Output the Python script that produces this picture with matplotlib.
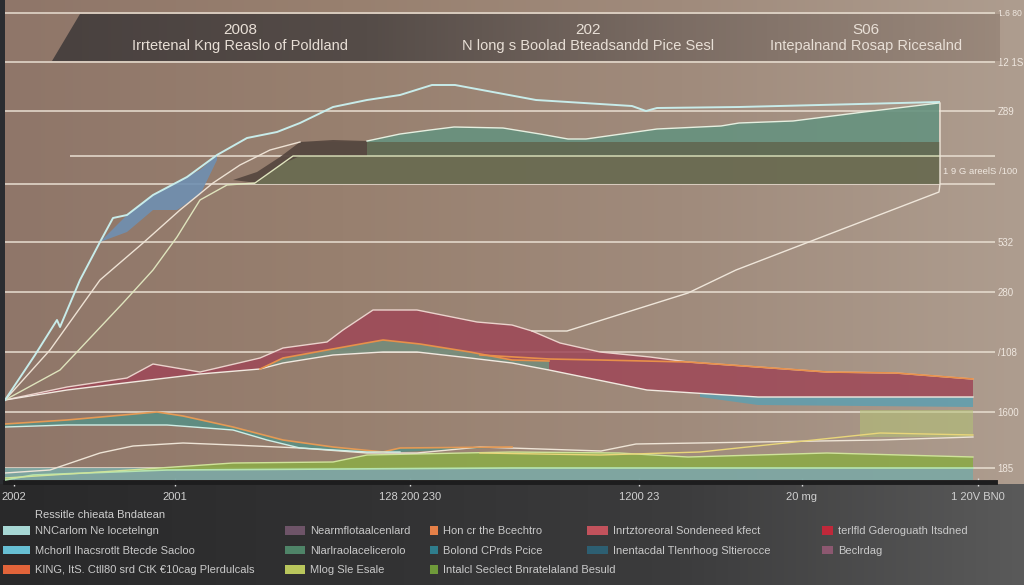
import matplotlib.pyplot as plt
import numpy as np
from matplotlib.colors import LinearSegmentedColormap
from matplotlib.patches import Patch, Polygon

plt.rcParams['font.family'] = ['Liberation Sans', 'DejaVu Sans']

# ---- data (x = period index, y = index level) ----
cyan_x = [5, 35, 57, 60, 80, 100, 113, 127, 153, 187, 217, 247, 277, 300, 333, 367,
          400, 432, 455, 536, 632, 646, 657, 739, 900, 939]
cyan_y = [82, 127, 162, 155, 202, 240, 264, 267, 287, 305, 327, 344, 350, 359, 375, 382,
          387, 397, 397, 382, 376, 371, 374, 375, 379, 380]

blue_x = [100, 127, 153, 177, 200, 217]
blue_top = [240, 267, 287, 300, 312, 327]
blue_bot = [240, 250, 272, 272, 287, 322]

lineb_x = [5, 50, 100, 143, 180, 213, 240, 270, 300]
lineb_y = [82, 132, 202, 239, 272, 299, 317, 332, 340]

linec_x = [5, 60, 123, 153, 177, 200, 227, 255, 293, 940]
linec_y = [82, 112, 179, 212, 245, 282, 297, 299, 326, 326]

brown_x = [233, 257, 280, 300, 333, 367]
brown_top = [302, 310, 325, 340, 342, 341]
brown_bot = [302, 299, 317, 326, 326, 326]

olive_x = [255, 293, 940]
olive_top = [299, 326, 326]
olive_bot = [298, 298, 298]

moss_x = [300, 940]
moss_top = [340, 340]
moss_bot = [326, 326]

teal_x = [367, 400, 430, 454, 503, 540, 568, 586, 657, 721, 739, 793, 864, 939]
teal_top = [341, 348, 352, 355, 354, 348, 343, 343, 353, 356, 359, 361, 370, 379]

diag_x = [532, 567, 688, 736, 814, 939, 940, 940]
diag_y = [151, 151, 189, 212, 242, 290, 298, 379]

red_top_x = [5, 67, 127, 153, 200, 260, 283, 327, 343, 373, 417, 477, 512, 532, 560,
             600, 650, 688, 758, 827, 896, 973]
red_top_y = [82, 95, 104, 118, 110, 124, 134, 140, 152, 172, 172, 160, 157, 151, 139,
             130, 125, 120, 115, 110, 109, 103]
red_bot_x = [5, 67, 133, 200, 260, 283, 333, 383, 417, 470, 512, 549, 647, 758, 973]
red_bot_y = [82, 92, 100, 108, 113, 119, 127, 130, 130, 124, 119, 112, 92, 85, 85]

orange_x = [260, 283, 327, 383, 420, 470, 512, 549]
orange_y = [113, 124, 132, 142, 138, 130, 122, 121]
orange_r_x = [480, 549, 600, 688, 758, 827, 896, 973]
orange_r_y = [127, 123, 122, 120, 115, 110, 109, 103]

sky_x = [700, 758, 973]
sky_top = [89, 85, 85]
sky_bot = [85, 77, 75]

low_top_x = [5, 67, 157, 183, 233, 283, 333, 383, 400, 512]
low_top_y = [58, 62, 70, 66, 55, 42, 35, 30, 34, 35]
low_bot_x = [5, 67, 167, 233, 267, 300, 367, 400]
low_bot_y = [55, 57, 57, 52, 42, 34, 30, 30]

pale_x = [5, 50, 100, 133, 183, 233, 300, 367, 417, 480, 601, 636, 880, 973]
pale_y = [9, 12, 29, 36, 39, 37, 34, 29, 29, 35, 31, 38, 42, 45]

gold_x = [480, 600, 700, 880, 973]
gold_y = [29, 27, 30, 49, 47]

green_top_x = [5, 100, 233, 333, 367, 512, 619, 688, 827, 973]
green_top_y = [4, 10, 19, 20, 27, 30, 29, 25, 29, 25]
green_bot_x = [5, 33, 167, 512, 973]
green_bot_y = [2, 7, 12, 14, 14]

base_x = [5, 973]
base_top = [14, 14]
base_bot = [2, 2]

lime_x = [860, 973]
lime_top = [72, 72]
lime_bot = [45, 45]

grid_y = [469, 420, 371, 298, 240, 190, 130, 70, 14]
grid_lbl = ['1.6 80', '12 1S', 'Z89', '', '532', '280', '/108', '1600', '185']

xt = [14, 175, 410, 639, 802, 978]
xt_lbl = ['2002', '2001', '128 200 230', '1200 23', '20 mg', '1 20V BN0']

banner_nums = ['2008', '202', 'S06']
banner_subs = ['Irrtetenal Kng Reaslo of Poldland',
               'N long s Boolad Bteadsandd Pice Sesl',
               'Intepalnand Rosap Ricesalnd']

leg_title = 'Ressitle chieata Bndatean'
leg1_labels = ['NNCarlom Ne locetelngn', 'Mchorll Ihacsrotlt Btecde Sacloo',
               'KING, ItS. Ctll80 srd CtK \u20ac10cag Plerdulcals']
leg1_colors = ['#a7d7d4', '#67bfd3', '#e2643a']
leg2_labels = ['Nearmflotaalcenlard', 'Nlarlraolacelicerolo', 'Mlog Sle Esale']
leg2_colors = ['#6e5468', '#4f8468', '#b9c65c']
leg3_labels = ['Hon cr the Bcechtro', 'Bolond CPrds Pcice', 'Intalcl Seclect Bnratelaland Besuld']
leg3_colors = ['#e58048', '#2f7d8c', '#6f9a3a']
leg4_labels = ['Inrtztoreoral Sondeneed kfect', 'Inentacdal Tlenrhoog Sltierocce']
leg4_colors = ['#c2525c', '#2d5f72']
leg5_labels = ['terlfld Gderoguath Itsdned', 'Beclrdag']
leg5_colors = ['#c0283a', '#8c5870']

W, H = 1024, 585
fig = plt.figure(figsize=(W / 100, H / 100), dpi=100, facecolor='#2b2d31')

# ---- backgrounds ----
bg = fig.add_axes([0, 0, 1, 1], zorder=0)
grad = np.linspace(0, 1, 256)[None, :]
dark = LinearSegmentedColormap.from_list('dark', ['#29292a', '#313132', '#3c3c3d', '#5a5a5a'])
brown = LinearSegmentedColormap.from_list('brown', ['#8f7669', '#98806f', '#a08b7c', '#ae9d8f'])
bg.imshow(grad, cmap=dark, extent=(0, W, H, 484), aspect='auto')
bg.imshow(grad, cmap=brown, extent=(5, W, 484, 0), aspect='auto')
bg.set_xlim(0, W)
bg.set_ylim(H, 0)
bg.axis('off')

# ---- main chart ----
ax = fig.add_axes([5 / W, (H - 482) / H, 990 / W, 482 / H], zorder=2)
ax.set_facecolor('none')
ax.set_xlim(5, 995)
ax.set_ylim(0, 482)


def band(xt_, yt_, xb_, yb_, color, alpha=1.0, z=2):
    xs = np.r_[xt_, xb_[::-1]]
    ys = np.r_[yt_, yb_[::-1]]
    ax.fill(xs, ys, color=color, alpha=alpha, lw=0, zorder=z)


band(base_x, base_top, base_x, base_bot, '#7ea7a3', 0.95)
band(green_top_x, green_top_y, green_bot_x, green_bot_y, '#8da84b', 0.95)
band(lime_x, lime_top, lime_x, lime_bot, '#b4c375', 0.55)
band(low_top_x, low_top_y, low_bot_x, low_bot_y, '#5a8f84', 0.9)
band(red_top_x, red_top_y, red_bot_x, red_bot_y, '#9e4757', 0.85)
band(orange_x, orange_y, red_bot_x[4:12], red_bot_y[4:12], '#6f9a82', 0.8)
band(sky_x, sky_top, sky_x, sky_bot, '#5e9fb0', 0.85)
band(olive_x, olive_top, olive_x, olive_bot, '#6a6b51', 0.95)
band(moss_x, moss_top, moss_x, moss_bot, '#5f6a53', 0.95)
band(teal_x, teal_top, [teal_x[0], teal_x[-1]], [340, 340], '#66927f', 0.9)
band(brown_x, brown_top, brown_x, brown_bot, '#574840', 0.95)
band(blue_x, blue_top, blue_x, blue_bot, '#6f90b2', 0.9)

ax.plot(green_bot_x, green_bot_y, color='#b5e3b0', lw=1.2, zorder=3)
ax.plot(green_top_x, green_top_y, color='#cfe39a', lw=1, zorder=3)
ax.plot(pale_x, pale_y, color='#eee4d6', lw=1, zorder=3)
ax.plot(gold_x, gold_y, color='#e9d67a', lw=1, zorder=3)
ax.plot(low_top_x, low_top_y, color='#e59a55', lw=1.2, zorder=3)
ax.plot(low_bot_x, low_bot_y, color='#cfeee6', lw=1, zorder=3)
ax.plot(red_top_x, red_top_y, color='#ead3cc', lw=1, zorder=3)
ax.plot(red_bot_x, red_bot_y, color='#f1e9e0', lw=1, zorder=3)
ax.plot(orange_x, orange_y, color='#e8904a', lw=1.2, zorder=3)
ax.plot(orange_r_x, orange_r_y, color='#e8904a', lw=1.2, zorder=3)
ax.plot(teal_x, teal_top, color='#e6efe0', lw=1, zorder=3)
ax.plot(lineb_x, lineb_y, color='#eee2d4', lw=1, zorder=3)
ax.plot(linec_x, linec_y, color='#dfe4bd', lw=1, zorder=3)
ax.plot(diag_x, diag_y, color='#efe6da', lw=1, zorder=3)
ax.plot(cyan_x, cyan_y, color='#c8ecea', lw=1.4, zorder=4)
ax.hlines(326, 70, 995, color='#e9dfd2', lw=1.1, zorder=1)

ax.set_yticks(grid_y)
ax.set_yticklabels(grid_lbl)
ax.yaxis.tick_right()
ax.tick_params(axis='y', length=0, pad=2, labelcolor='#efe7df', labelsize=7)
ax.get_yticklabels()[0].set_fontsize(6.2)
ax.grid(axis='y', color='#e9dfd2', lw=1.1)
ax.set_axisbelow(True)

ax.set_xticks(xt)
ax.set_xticklabels(xt_lbl)
ax.tick_params(axis='x', color='#dcdcdc', length=6, width=1, direction='inout',
               labelcolor='#d0d0d0', labelsize=8, pad=4)
for s in ['top', 'left', 'right']:
    ax.spines[s].set_visible(False)
ax.spines['bottom'].set_color('#1d1d1e')
ax.spines['bottom'].set_linewidth(3.5)
ax.text(943, 310, '1 9 G areelS /100', fontsize=6.8, color='#efe7df', va='center')

# ---- banner ----
ov = fig.add_axes([0, 0, 1, 1], zorder=3)
ov.set_facecolor('none')
bann = LinearSegmentedColormap.from_list('bann', ['#49413f', '#554c48', '#7c6d64', '#9a887b'])
im = ov.imshow(grad, cmap=bann, extent=(52, 1000, 62, 14), aspect='auto')
poly = Polygon([(52, 61), (80, 14), (1000, 14), (1000, 61)], closed=True,
               facecolor='none', edgecolor='none')
ov.add_patch(poly)
im.set_clip_path(poly)
ov.set_xlim(0, W)
ov.set_ylim(H, 0)
ov.axis('off')
for cx, num, sub in zip([240, 588, 866], banner_nums, banner_subs):
    ov.text(cx, 30, num, ha='center', va='center', fontsize=11, color='#e8dfd6')
    ov.text(cx, 46, sub, ha='center', va='center', fontsize=10.5, color='#e8dfd6')

# ---- legend ----
fig.text(35 / W, 1 - 515 / H, leg_title, fontsize=8, color='#cfcfcf', va='center')
for x0, hl, labels, colors in [(3, 2.4, leg1_labels, leg1_colors),
                               (285, 1.8, leg2_labels, leg2_colors),
                               (430, 0.7, leg3_labels, leg3_colors),
                               (587, 1.9, leg4_labels, leg4_colors),
                               (822, 1.0, leg5_labels, leg5_colors)]:
    handles = [Patch(facecolor=c, edgecolor='none') for c in colors]
    fig.legend(handles, labels, loc='upper left', bbox_to_anchor=(x0 / W, 1 - 526 / H),
               frameon=False, fontsize=8, labelcolor='#c9c9c9', handlelength=hl,
               handleheight=0.8, handletextpad=0.45, labelspacing=0.85,
               borderpad=0, borderaxespad=0)

fig.savefig('out.png', dpi=100, facecolor=fig.get_facecolor())
